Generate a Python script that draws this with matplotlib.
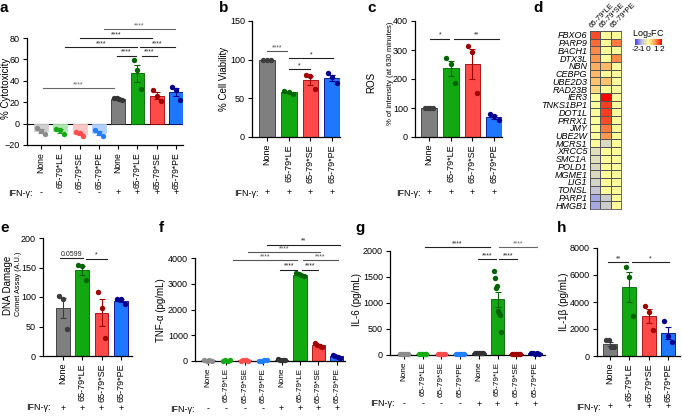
import numpy as np
import matplotlib
matplotlib.use('Agg')
import matplotlib.pyplot as plt
from matplotlib import transforms
from matplotlib.colors import LinearSegmentedColormap

plt.rcParams['font.family'] = ['Liberation Sans', 'DejaVu Sans']
plt.rcParams['mathtext.default'] = 'regular'

# ---------------- data ----------------
labels8 = ['None', '65-79*LE', '65-79*SE', '65-79*PE', 'None', '65-79*LE', '65-79*SE', '65-79*PE']
labels4 = ['None', '65-79*LE', '65-79*SE', '65-79*PE']
ifn8 = ['-', '-', '-', '-', '+', '+', '+', '+']
ifn4 = ['+', '+', '+', '+']

# a: % cytotoxicity
cyto_pts = [[-4, -7, -10], [-5, -6, -10], [-8, -9, -12], [-6, -9, -12],
            [24, 23.5, 23, 22.5], [59.5, 50, 32], [31.5, 25.5, 21.5], [34.5, 31.5, 22.5]]
# b: % cell viability
viab_pts = [[100, 100, 100], [59, 58, 56], [80, 79, 62], [83, 77, 70]]
# c: ROS
ros_pts = [[100, 100, 100, 100], [274, 251, 185], [313, 294, 151], [80, 71, 57]]
# e: DNA damage
dna_pts = [[102, 96, 46], [154, 152, 129], [108, 82, 31], [97, 97, 88]]
# f: TNF-alpha
tnf_pts = [[20, 15, 25, 18], [15, 20, 18, 22], [15, 20, 25, 18], [15, 18, 20, 22],
           [60, 45, 40, 35], [3410, 3370, 3340, 3310], [700, 640, 600, 560], [250, 200, 160, 130]]
# g: IL-6
il6_pts = [[15, 20, 25, 18, 22], [15, 20, 18, 22, 25], [15, 20, 25, 18, 22], [15, 18, 20, 22, 25],
           [40, 35, 30, 45, 38], [1615, 1487, 1295, 1327, 846, 814, 769, 449],
           [10, 15, 12, 14, 11], [40, 30, 25, 35, 28]]
# h: IL-1beta
il1b_pts = [[1160, 1160, 700, 650], [6570, 5880, 2950], [3720, 3270, 1910], [2600, 1490, 1040]]

# d: heatmap (columns LE, SE, PE)
genes = ['FBXO6', 'PARP9', 'BACH1', 'DTX3L', 'NBN', 'CEBPG', 'UBE2D3', 'RAD23B', 'IER3',
         'TNKS1BP1', 'DOT1L', 'PRRX1', 'JMY', 'UBE2W', 'MCRS1', 'XRCC5', 'SMC1A', 'POLD1',
         'MGME1', 'LIG1', 'TONSL', 'PARP1', 'HMGB1']
le_fc = [1.5, 1.3, 1.1, 1.0, 0.8, 0.7, 0.6, 0.4, 0, 0, 0, 0, 0, 0, 0.05,
         -0.5, -0.5, -0.6, -0.6, -0.7, -0.9, -1.2, -1.2]
se_fc = [0, 0, 0, 0, 0.7, 0, 0.6, 0, 2.0, 1.6, 1.6, 1.5, 1.2, 1.0, -0.6,
         0, 0, 0, 0, 0, 0, -0.8, -0.8]
pe_fc = [0, 1.2, 0, 1.1, 0, 0, 0, 0, 0, 0, 0, 0, 0, 0, 0,
         0, 0, 0, 0, 0, 0, 0, 0]
heat_cols = ['65-79*LE', '65-79*SE', '65-79*PE']

# colours
GRAY, GREEN, RED, BLUE = '#7f7f7f', '#12a812', '#ff4a4a', '#1e78ff'
DGRAY, DGREEN, DRED, DBLUE = '#333333', '#006400', '#a00000', '#00008c'
LGRAY, LGREEN, LRED, LBLUE = '#d0d0d0', '#b0e6b0', '#ffc6c6', '#b0d0ff'
MGRAY, MGREEN, MRED, MBLUE = '#8c8c8c', '#14aa14', '#ff4d4d', '#2080ff'

W, H = 682, 416
fig = plt.figure(figsize=(W / 100, H / 100), dpi=100)


def px_axes(l, t, r, b):
    return fig.add_axes([l / W, 1 - b / H, (r - l) / W, (b - t) / H])


def ftext(x, y, s, **kw):
    fig.text(x / W, 1 - y / H, s, **kw)


def bar_panel(ax, groups, fcs, ecs, dcs, names, ifn, ifn_y, lab_x=-0.45, xfs=6.5):
    for i, pts in enumerate(groups):
        pts = np.array(pts, dtype=float)
        m = pts.mean()
        s = pts.std(ddof=1) / np.sqrt(len(pts))
        ax.bar(i, m, width=0.72, color=fcs[i], edgecolor=ecs[i], lw=0.6, zorder=2)
        off = np.linspace(-0.2, 0.2, len(pts))
        ax.scatter(i + off, pts, s=15, color=dcs[i], lw=0, zorder=3, clip_on=False)
        ax.errorbar(i, m, yerr=s, color=dcs[i], capsize=2, elinewidth=0.8,
                    capthick=0.8, zorder=4)
    ax.set_xticks(range(len(groups)))
    ax.set_xticklabels(names, rotation=90, fontsize=xfs)
    ax.tick_params(axis='y', labelsize=6.5)
    ax.tick_params(length=3, width=0.8, pad=2)
    for sp in ['top', 'right']:
        ax.spines[sp].set_visible(False)
    for sp in ['left', 'bottom']:
        ax.spines[sp].set_linewidth(0.9)
    tr = transforms.blended_transform_factory(ax.transData, fig.transFigure)
    yy = 1 - ifn_y / H
    ax.text(lab_x, yy, 'IFN-γ:', transform=tr, ha='right', va='center', fontsize=6.5)
    for i, sym in enumerate(ifn):
        ax.text(i, yy, sym, transform=tr, ha='center', va='center', fontsize=6.5)


def bracket(ax, x1, x2, y, txt, color='#222222', fs=5):
    ax.plot([x1, x2], [y, y], color=color, lw=0.8, clip_on=False, zorder=5)
    ax.text((x1 + x2) / 2, y, txt, ha='center', va='bottom', fontsize=fs,
            color=color, clip_on=False)


# ---------------- a ----------------
ax = px_axes(27, 38, 183, 145)
bar_panel(ax, cyto_pts,
          [LGRAY, LGREEN, LRED, LBLUE, GRAY, GREEN, RED, BLUE],
          [LGRAY, LGREEN, LRED, LBLUE, DGRAY, DGREEN, DRED, DBLUE],
          [MGRAY, MGREEN, MRED, MBLUE, DGRAY, DGREEN, DRED, DBLUE],
          labels8, ifn8, 193, lab_x=-0.42, xfs=6.2)
ax.axhline(0, color='k', lw=0.8, zorder=1)
ax.set_xlim(-0.725, 7.36)
ax.set_ylim(-20, 80)
ax.set_yticks([-20, 0, 20, 40, 60, 80])
bracket(ax, 3.95, 4.92, 63.3, '****')
bracket(ax, 5.22, 5.99, 63.3, '****')
bracket(ax, 1.24, 4.96, 71.3, '****')
bracket(ax, 5.13, 6.94, 71.3, '****')
bracket(ax, 2.02, 5.73, 79.7, '****')
bracket(ax, 3.26, 6.94, 88.4, '****', color='#666666')
bracket(ax, 0.12, 3.78, 33.2, '****', color='#666666')
ftext(6, 88, '% Cytotoxicity', rotation=90, ha='center', va='center', fontsize=7)

# ---------------- b ----------------
ax = px_axes(252, 21, 340, 137)
bar_panel(ax, viab_pts, [GRAY, GREEN, RED, BLUE], [DGRAY, DGREEN, DRED, DBLUE],
          ['#3c3c3c', DGREEN, DRED, DBLUE], labels4, ifn4, 193, lab_x=-0.4)
ax.set_xlim(-0.69, 3.36)
ax.set_ylim(0, 150)
ax.set_yticks([0, 50, 100, 150])
bracket(ax, 0.01, 0.91, 111, '****', color='#555555')
bracket(ax, 1.03, 3.06, 101.6, '*')
bracket(ax, 1.03, 1.98, 87.4, '*')
ftext(224, 79, '% Cell Viability', rotation=90, ha='center', va='center', fontsize=7)

# ---------------- c ----------------
ax = px_axes(415, 21, 502, 137)
bar_panel(ax, ros_pts, [GRAY, GREEN, RED, BLUE], [DGRAY, DGREEN, DRED, DBLUE],
          ['#3c3c3c', DGREEN, DRED, DBLUE], labels4, ifn4, 193, lab_x=-0.4)
ax.set_xlim(-0.645, 3.36)
ax.set_ylim(0, 400)
ax.set_yticks([0, 100, 200, 300, 400])
bracket(ax, 0.05, 0.94, 339, '*')
bracket(ax, 1.15, 3.2, 339, '**')
ftext(371, 82, 'ROS', rotation=90, ha='center', va='center', fontsize=7)
ftext(390, 73, '% of intensity (at 630 minutes)', rotation=90, ha='center',
      va='center', fontsize=5.5)

# ---------------- d ----------------
ax = px_axes(590, 31, 621, 209)
heat = np.array([le_fc, se_fc, pe_fc]).T
cmap = LinearSegmentedColormap.from_list(
    'fc', [(0, '#3c3cff'), (0.25, '#c0c0d8'), (0.5, '#ffff9c'),
           (0.75, '#ff9a50'), (1, '#ff0000')])
ax.pcolormesh(heat, cmap=cmap, vmin=-2, vmax=2, edgecolors='#555555', linewidth=0.5)
ax.set_xlim(0, 3)
ax.set_ylim(len(genes), 0)
ax.set_yticks(np.arange(len(genes)) + 0.5)
ax.set_yticklabels(genes, fontsize=6.5, style='italic')
ax.set_xticks([])
ax.tick_params(length=0, pad=2)
for sp in ax.spines.values():
    sp.set_linewidth(0.6)
    sp.set_color('#555555')
for j, name in enumerate(heat_cols):
    ax.text(j + 0.3, -0.2, name, rotation=45, ha='left', va='bottom', fontsize=5.5,
            rotation_mode='anchor')
cax = px_axes(635, 39, 662, 45)
cax.imshow(np.linspace(-2, 2, 200)[None, :], aspect='auto', cmap=cmap, vmin=-2, vmax=2,
           extent=[-2, 2, 0, 1])
cax.set_xticks([-2, -1, 0, 1, 2])
cax.set_xticklabels(['-2', '-1', '0', '1', '2'], fontsize=6)
cax.set_yticks([])
cax.tick_params(length=0, pad=1)
for sp in cax.spines.values():
    sp.set_visible(False)
ftext(648, 34, 'Log$_2$FC', ha='center', va='center', fontsize=6.5)

# ---------------- e ----------------
ax = px_axes(43, 238, 132, 356)
bar_panel(ax, dna_pts, [GRAY, GREEN, RED, BLUE], [DGRAY, DGREEN, DRED, DBLUE],
          ['#3c3c3c', DGREEN, DRED, DBLUE], labels4, ifn4, 408, lab_x=-0.67)
ax.set_xlim(-1.04, 3.58)
ax.set_ylim(0, 200)
ax.set_yticks([0, 50, 100, 150, 200])
bracket(ax, -0.16, 1.02, 166, '0.0599', fs=5)
bracket(ax, 1.19, 2.3, 165, '*')
ftext(8, 285, 'DNA Damage', rotation=90, ha='center', va='center', fontsize=7)
ftext(18, 284, 'Comet Assay (A.U.)', rotation=90, ha='center', va='center', fontsize=5.3)

# ---------------- f ----------------
ax = px_axes(195, 258, 345, 361)
bar_panel(ax, tnf_pts,
          [MGRAY, MGREEN, MRED, MBLUE, GRAY, GREEN, RED, BLUE],
          [MGRAY, MGREEN, MRED, MBLUE, DGRAY, DGREEN, DRED, DBLUE],
          [MGRAY, MGREEN, MRED, MBLUE, DGRAY, DGREEN, DRED, DBLUE],
          labels8, ifn8, 409, lab_x=-0.7, xfs=5.9)
ax.set_xlim(-0.7, 7.45)
ax.set_ylim(0, 4000)
ax.set_yticks([0, 1000, 2000, 3000, 4000])
bracket(ax, 3.92, 4.86, 3548, '****')
bracket(ax, 5.1, 6.0, 3548, '****')
bracket(ax, 1.36, 4.86, 3910, '****', color='#555555')
bracket(ax, 5.15, 7.09, 3910, '****', color='#555555')
bracket(ax, 2.2, 6.1, 4219, '****', color='#555555')
bracket(ax, 3.2, 7.18, 4516, '**')
ftext(161, 310, 'TNF-α (pg/mL)', rotation=90, ha='center', va='center', fontsize=7)

# ---------------- g ----------------
ax = px_axes(390, 251, 545, 355)
bar_panel(ax, il6_pts,
          [MGRAY, MGREEN, MRED, MBLUE, GRAY, GREEN, RED, BLUE],
          [MGRAY, MGREEN, MRED, MBLUE, DGRAY, DGREEN, DRED, DBLUE],
          [MGRAY, MGREEN, MRED, MBLUE, DGRAY, DGREEN, DRED, DBLUE],
          labels8, ifn8, 404, lab_x=-0.5, xfs=5.9)
ax.set_xlim(-0.75, 7.54)
ax.set_ylim(0, 2000)
ax.set_yticks([0, 500, 1000, 1500, 2000])
bracket(ax, 1.12, 4.6, 2077, '****')
bracket(ax, 5.08, 7.11, 2077, '****', color='#666666')
bracket(ax, 3.96, 4.92, 1846, '****')
bracket(ax, 5.08, 6.04, 1846, '****')
ftext(357, 300, 'IL-6 (pg/mL)', rotation=90, ha='center', va='center', fontsize=7)

# ---------------- h ----------------
ax = px_axes(597, 248, 680, 356)
bar_panel(ax, il1b_pts, [GRAY, GREEN, RED, BLUE], [DGRAY, DGREEN, DRED, DBLUE],
          ['#3c3c3c', DGREEN, DRED, DBLUE], labels4, ifn4, 407, lab_x=-0.5)
ax.set_xlim(-0.67, 3.6)
ax.set_ylim(0, 8000)
ax.set_yticks([0, 2000, 4000, 6000, 8000])
bracket(ax, -0.08, 0.95, 6944, '**')
bracket(ax, 1.12, 3.02, 6944, '*')
ftext(564, 302, 'IL-1β (pg/mL)', rotation=90, ha='center', va='center', fontsize=7)

# panel letters
for letter, x, y in [('a', 0, 12), ('b', 219, 12), ('c', 367, 12), ('d', 533, 12),
                     ('e', 0, 232), ('f', 159, 232), ('g', 355, 232), ('h', 557, 232)]:
    ftext(x, y, letter, fontsize=11, fontweight='bold', ha='left', va='baseline')

fig.savefig('out.png', dpi=100)
